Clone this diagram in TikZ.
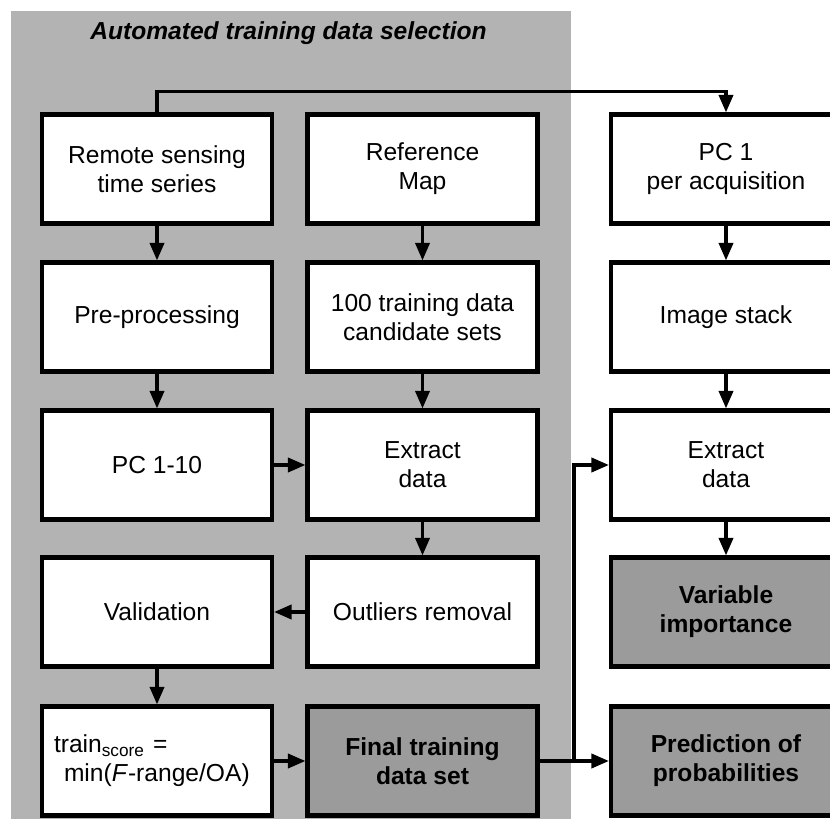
\documentclass[tikz,border=0pt]{standalone}
\usepackage{fontspec}
\setmainfont{Liberation Sans}
\usetikzlibrary{arrows.meta}
\definecolor{panelgray}{RGB}{179,179,179}
\definecolor{boxgray}{RGB}{155,155,155}

\begin{document}
\begin{tikzpicture}[
    box/.style={rectangle, draw=black, fill=white, line width=2.3pt, minimum width=4.6cm, minimum height=2.18cm, align=center, inner sep=3pt, font=\fontsize{14}{16.4}\selectfont},
    dark/.style={box, fill=boxgray, font=\fontsize{14}{16.4}\selectfont\bfseries},
    arrow/.style={-{Triangle[length=10pt, width=8pt]}, line width=2pt}]

\useasboundingbox (0,0) rectangle (16.6,-16.38);
\clip (0,0) rectangle (16.6,-16.38);

% shaded panel for the automated part
\fill[panelgray] (0.23,-0.22) rectangle (11.42,-16.5);
\node[font=\fontsize{14}{16.4}\selectfont\bfseries\itshape, anchor=base] (title) at (5.77,-0.8) {Automated training data selection};

\node[box] (rs) at (3.14, -3.38) {Remote sensing\\time series};
\node[box] (refmap) at (8.45, -3.38) {Reference\\Map};
\node[box] (pcacq) at (14.52, -3.38) {PC 1\\per acquisition};

\node[box] (prep) at (3.14, -6.34) {Pre-processing};
\node[box] (cand) at (8.45, -6.34) {100 training data\\candidate sets};
\node[box] (stack) at (14.52, -6.34) {Image stack};

\node[box] (pcs) at (3.14, -9.30) {PC 1-10};
\node[box] (extract) at (8.45, -9.30) {Extract\\data};
\node[box] (extractpc) at (14.52, -9.30) {Extract\\data};

\node[box] (valid) at (3.14, -12.24) {Validation};
\node[box] (outliers) at (8.45, -12.24) {Outliers removal};
\node[dark] (varimp) at (14.52, -12.24) {Variable\\importance};

\node[box, align=left, inner xsep=0.24cm, text width=4.12cm] (score) at (3.14, -15.22) {train\textsubscript{score} =\\\hspace*{0.2cm}min(\textit{F}-range/OA)};
\node[dark] (final) at (8.45, -15.22) {Final training\\data set};
\node[dark] (predict) at (14.52, -15.22) {Prediction of\\probabilities};

\draw[arrow] (rs.north) -- ++(0,0.42) -| (pcacq.north);
\draw[arrow] (rs) -- (prep);
\draw[arrow] (prep) -- (pcs);
\draw[arrow] (refmap) -- (cand);
\draw[arrow] (cand) -- (extract);
\draw[arrow] (pcs) -- (extract);
\draw[arrow] (extract) -- (outliers);
\draw[arrow] (outliers) -- (valid);
\draw[arrow] (valid) -- (score);
\draw[arrow] (score) -- (final);
\draw[arrow] (pcacq) -- (stack);
\draw[arrow] (stack) -- (extractpc);
\draw[arrow] (extractpc) -- (varimp);

\coordinate (split) at (11.48, -15.22);
\draw[arrow] (final) -- (predict);
\draw[arrow] (split) |- (extractpc.west);

\end{tikzpicture}
\end{document}
